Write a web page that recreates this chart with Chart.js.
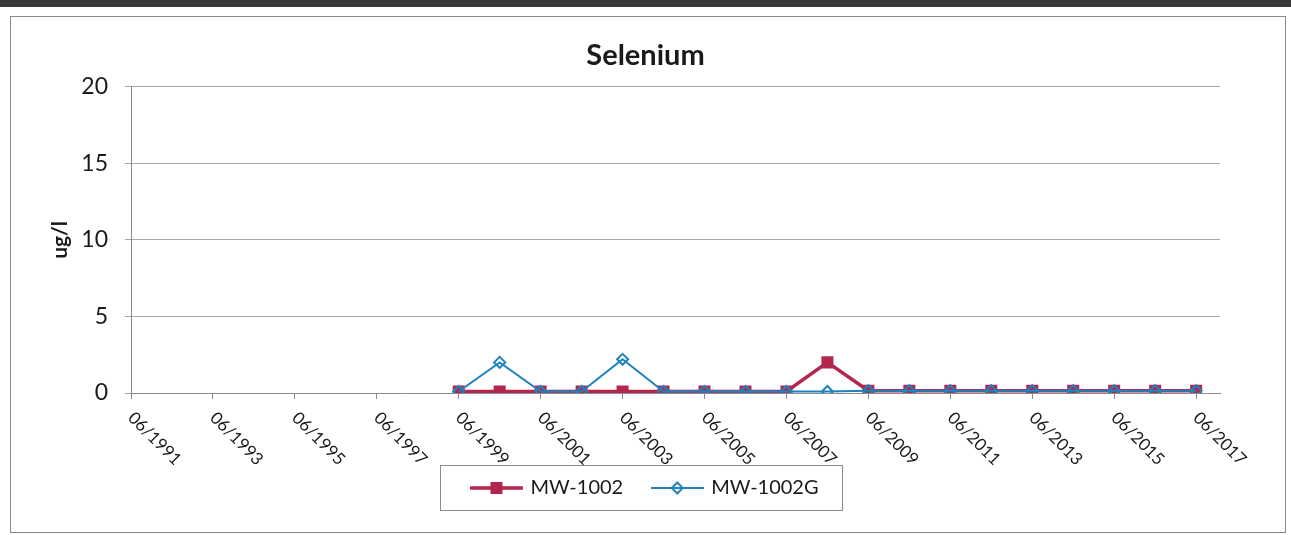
<!DOCTYPE html>
<html>
<head>
<meta charset="utf-8">
<title>Selenium</title>
<script src="https://cdn.jsdelivr.net/npm/chart.js@4/dist/chart.umd.min.js"></script>
<style>
  html, body { margin: 0; padding: 0; background: #fff; }
</style>
</head>
<body>
<canvas id="chart" width="1291" height="535"></canvas>
<script>
// sample years (June of each year)
const years = [1999, 2000, 2001, 2002, 2003, 2004, 2005, 2006, 2007, 2008,
               2009, 2010, 2011, 2012, 2013, 2014, 2015, 2016, 2017];
const mw1002  = [0.1, 0.1, 0.1, 0.1, 0.1, 0.1, 0.1, 0.1, 0.1, 2.0,
                 0.15, 0.15, 0.15, 0.15, 0.15, 0.15, 0.15, 0.15, 0.15];
const mw1002g = [0.1, 2.0, 0.1, 0.1, 2.2, 0.1, 0.1, 0.1, 0.1, 0.1,
                 0.15, 0.15, 0.15, 0.15, 0.15, 0.15, 0.15, 0.15, 0.15];
const tickYears = [1991, 1993, 1995, 1997, 1999, 2001, 2003, 2005, 2007,
                   2009, 2011, 2013, 2015, 2017];
const seriesNames = ['MW-1002', 'MW-1002G'];

const RED = '#b3264d';
const BLUE = '#1f82bd';
const JUNE = 5 / 12;

function toPoints(vals) {
  return years.map((y, i) => ({ x: y + JUNE, y: vals[i] }));
}

// legend icons: line with marker in the middle
function makeIcon(kind) {
  const c = document.createElement('canvas');
  c.width = 53; c.height = 16;
  const g = c.getContext('2d');
  if (kind === 0) {
    g.strokeStyle = RED; g.lineWidth = 3.5;
    g.beginPath(); g.moveTo(0, 8); g.lineTo(53, 8); g.stroke();
    g.fillStyle = RED; g.fillRect(26.5 - 6, 8 - 6, 12, 12);
  } else {
    g.strokeStyle = BLUE; g.lineWidth = 2;
    g.beginPath(); g.moveTo(0, 8); g.lineTo(53, 8); g.stroke();
    g.beginPath();
    g.moveTo(26.5 - 5.5, 8); g.lineTo(26.5, 2.5); g.lineTo(32, 8); g.lineTo(26.5, 13.5);
    g.closePath(); g.stroke();
  }
  return c;
}
const icons = [makeIcon(0), makeIcon(1)];

const frame = {
  id: 'frame',
  beforeDraw(chart) {
    const ctx = chart.ctx;
    ctx.save();
    ctx.fillStyle = '#fff';
    ctx.fillRect(0, 0, chart.width, chart.height);
    ctx.fillStyle = '#3a3a3a';
    ctx.fillRect(0, 0, chart.width, 7);
    ctx.strokeStyle = '#8a8a8a';
    ctx.lineWidth = 1;
    ctx.strokeRect(10.5, 16.5, 1275, 516);
    ctx.restore();
  },
  afterDraw(chart) {
    const ctx = chart.ctx;
    const sx = chart.scales.x;
    // slanted date labels
    ctx.save();
    ctx.font = '17px Lato';
    ctx.fillStyle = '#1a1a1a';
    ctx.textAlign = 'left';
    ctx.textBaseline = 'middle';
    sx.ticks.forEach(t => {
      const px = sx.getPixelForValue(t.value);
      const yr = Math.round(t.value - JUNE);
      ctx.save();
      ctx.translate(px, sx.top + 22);
      ctx.rotate(Math.PI / 4);
      ctx.fillText('06/' + yr, 0, 0);
      ctx.restore();
    });
    ctx.restore();
    // legend border
    const lg = chart.legend;
    const P = lg.options.labels.padding;
    const x0 = (lg.left + P + lg.right - lg.lineWidths[0]) / 2;
    const run = lg.lineWidths[0] - P;
    const cy = lg.top + P + 10;
    ctx.save();
    ctx.strokeStyle = '#8a8a8a';
    ctx.lineWidth = 1;
    ctx.strokeRect(Math.round(x0 - 32) + 0.5, Math.round(cy - 23) + 0.5, Math.round(run + 56), 45);
    ctx.restore();
  }
};

new Chart(document.getElementById('chart'), {
  type: 'line',
  data: {
    datasets: [{
      label: seriesNames[0],
      data: toPoints(mw1002),
      borderColor: RED,
      backgroundColor: RED,
      borderWidth: 3.5,
      pointStyle: 'rect',
      pointRadius: 8.5,
      pointBackgroundColor: RED,
      pointBorderWidth: 0,
      order: 1
    }, {
      label: seriesNames[1],
      data: toPoints(mw1002g),
      borderColor: BLUE,
      backgroundColor: BLUE,
      borderWidth: 2,
      pointStyle: 'rectRot',
      pointRadius: 5.5,
      pointBackgroundColor: 'rgba(0,0,0,0)',
      pointBorderColor: BLUE,
      pointBorderWidth: 2,
      order: 0
    }]
  },
  options: {
    responsive: false,
    animation: false,
    devicePixelRatio: 1,
    layout: { padding: { left: 10, right: 10, top: 16, bottom: 27 } },
    scales: {
      x: {
        type: 'linear',
        min: 1991 + JUNE,
        max: 2018,
        afterBuildTicks: s => { s.ticks = tickYears.map(y => ({ value: y + JUNE })); },
        afterFit: s => { s.height = 55; },
        ticks: { display: false },
        grid: { drawOnChartArea: false, drawTicks: true, tickLength: 6, color: '#8a8a8a' },
        border: { color: '#8a8a8a' }
      },
      y: {
        min: 0,
        max: 20,
        afterFit: s => { s.width = 121; },
        ticks: { stepSize: 5, padding: 17, color: '#1a1a1a', font: { family: 'Lato', size: 23 } },
        grid: { color: '#a8a8a8', tickLength: 6 },
        border: { color: '#8a8a8a' },
        title: {
          display: true,
          text: 'ug/l',
          color: '#1a1a1a',
          font: { family: 'Lato', size: 21, weight: 'bold' },
          padding: { top: 38, bottom: 0 }
        }
      },
      spacer: {
        position: 'right',
        afterFit: s => { s.width = 61; },
        ticks: { display: false },
        grid: { display: false },
        border: { display: false }
      }
    },
    plugins: {
      title: {
        display: true,
        text: 'Selenium',
        color: '#1a1a1a',
        font: { family: 'Lato', size: 29, weight: 'bold' },
        padding: { top: 22, bottom: 14 }
      },
      legend: {
        position: 'bottom',
        labels: {
          usePointStyle: true,
          pointStyleWidth: 48,
          padding: 30,
          color: '#1a1a1a',
          font: { family: 'Lato', size: 20 },
          sort: (a, b) => a.datasetIndex - b.datasetIndex,
          generateLabels: chart => Chart.defaults.plugins.legend.labels.generateLabels(chart)
            .map(item => Object.assign(item, { pointStyle: icons[item.datasetIndex] }))
        }
      },
      tooltip: { enabled: false }
    }
  },
  plugins: [frame]
});
</script>
</body>
</html>
